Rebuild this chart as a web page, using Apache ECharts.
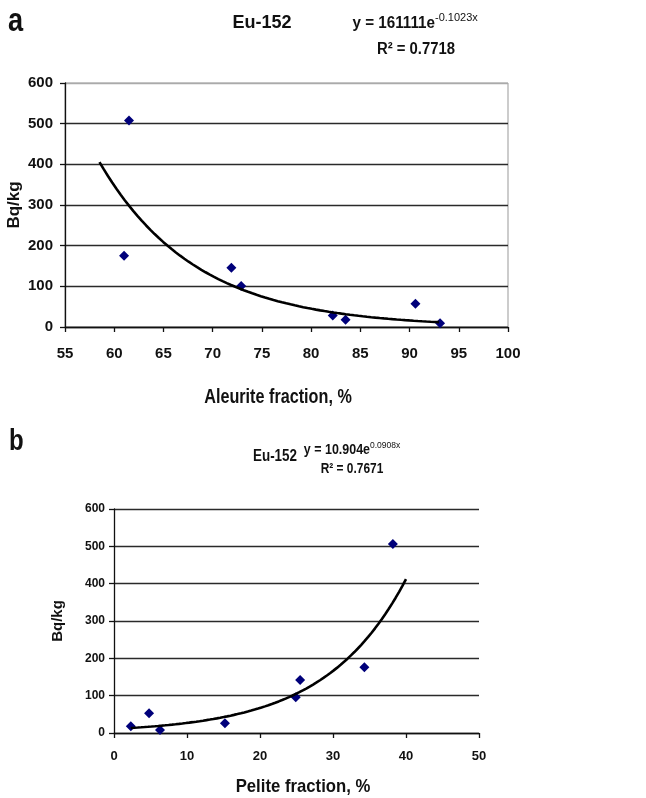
<!DOCTYPE html>
<html>
<head>
<meta charset="utf-8">
<script src="https://cdn.jsdelivr.net/npm/echarts@6/dist/echarts.min.js"></script>
<style>
  html, body { margin: 0; padding: 0; background: #fff; }
  #chart { width: 646px; height: 798px; }
</style>
</head>
<body>
<div id="chart"></div>
<script>
// Panel a: Eu-152 activity vs aleurite fraction
const aleuriteFraction = [61.5, 61.0, 71.9, 72.9, 82.2, 83.5, 90.6, 93.1];
const aleuriteActivity = [508, 175, 146, 101, 28, 18, 57, 9];
// exponential trend y = A * e^(k x), coefficients as printed on the panel
const aleuriteTrend = [161111, -0.1023];
const aleuriteTrendRange = [58.5, 93.0];

// Panel b: Eu-152 activity vs pelite fraction
const peliteFraction = [2.3, 4.8, 6.3, 15.2, 24.9, 25.5, 34.3, 38.2];
const peliteActivity = [18, 53, 8, 26, 96, 142, 176, 506];
const peliteTrend = [10.904, 0.0908];
const peliteTrendRange = [2.3, 40.0];

// axis tick values
const aleuriteTicks = [55, 60, 65, 70, 75, 80, 85, 90, 95, 100];
const peliteTicks = [0, 10, 20, 30, 40, 50];
const activityTicks = [0, 100, 200, 300, 400, 500, 600];

const SANS = "'Liberation Sans', Arial, sans-serif";
const INK = '#111';

function zip(xs, ys) { return xs.map((x, i) => [x, ys[i]]); }

// sample the printed exponential trend equation across its x range
function trendCurve(coef, range, steps) {
  const pts = [];
  for (let i = 0; i <= steps; i++) {
    const x = range[0] + (range[1] - range[0]) * i / steps;
    pts.push([x, coef[0] * Math.exp(coef[1] * x)]);
  }
  return pts;
}

function xAxisCfg(ticks, gridIndex, labelSize, labelMargin) {
  return {
    type: 'value', gridIndex: gridIndex,
    min: ticks[0], max: ticks[ticks.length - 1], interval: ticks[1] - ticks[0],
    axisLine: { show: true, onZero: false, lineStyle: { color: INK, width: 1.3 } },
    axisTick: { show: true, inside: false, length: 5, lineStyle: { color: INK, width: 1.3 } },
    axisLabel: { color: INK, fontFamily: SANS, fontWeight: 'bold', fontSize: labelSize, margin: labelMargin },
    splitLine: { show: false }
  };
}

function yAxisCfg(ticks, gridIndex, nameGap, nameSize, labelSize, labelMargin, splitColors) {
  return {
    type: 'value', gridIndex: gridIndex,
    min: ticks[0], max: ticks[ticks.length - 1], interval: ticks[1] - ticks[0],
    name: 'Bq/kg', nameLocation: 'middle', nameGap: nameGap, nameMoveOverlap: false,
    nameTextStyle: { color: INK, fontFamily: SANS, fontWeight: 'bold', fontSize: nameSize },
    axisLine: { show: true, lineStyle: { color: INK, width: 1.3 } },
    axisTick: { show: true, inside: false, length: 5, lineStyle: { color: INK, width: 1.3 } },
    axisLabel: { color: INK, fontFamily: SANS, fontWeight: 'bold', fontSize: labelSize, margin: labelMargin },
    splitLine: { show: true, lineStyle: { color: splitColors, width: 1.4 } }
  };
}

// condensed text: horizontally squeezed around its anchor point
function label(text, x, y, font, squeeze, align) {
  return {
    type: 'text', x: x, y: y, scaleX: squeeze, scaleY: 1,
    style: { text: text, font: font + ' ' + SANS, fill: INK, align: align || 'center', verticalAlign: 'middle' }
  };
}

const chart = echarts.init(document.getElementById('chart'), null, { renderer: 'canvas' });

const markerStyle = { color: '#00007a', opacity: 1 };
const trendStyle = { color: '#000', width: 2.6 };

chart.setOption({
  backgroundColor: '#fff',
  animation: false,
  grid: [
    { left: 65, top: 83, width: 443, height: 244, outerBoundsMode: 'none', containLabel: false,
      show: true, borderColor: '#999', borderWidth: 1, backgroundColor: 'transparent' },
    { left: 114, top: 509, width: 365, height: 224, outerBoundsMode: 'none', containLabel: false }
  ],
  xAxis: [
    xAxisCfg(aleuriteTicks, 0, 15, 19),
    xAxisCfg(peliteTicks, 1, 13, 17)
  ],
  yAxis: [
    yAxisCfg(activityTicks, 0, 42, 17, 15, 12, ['#2a2a2a', '#2a2a2a', '#2a2a2a', '#2a2a2a', '#2a2a2a', '#2a2a2a', '#aaa']),
    yAxisCfg(activityTicks, 1, 49, 15, 12, 9, ['#2a2a2a'])
  ],
  series: [
    { type: 'scatter', xAxisIndex: 0, yAxisIndex: 0, symbol: 'diamond', symbolSize: 10,
      itemStyle: markerStyle, data: zip(aleuriteFraction, aleuriteActivity), z: 3 },
    { type: 'line', xAxisIndex: 0, yAxisIndex: 0, showSymbol: false, symbol: 'none',
      lineStyle: trendStyle, data: trendCurve(aleuriteTrend, aleuriteTrendRange, 80), z: 4 },
    { type: 'scatter', xAxisIndex: 1, yAxisIndex: 1, symbol: 'diamond', symbolSize: 10,
      itemStyle: markerStyle, data: zip(peliteFraction, peliteActivity), z: 3 },
    { type: 'line', xAxisIndex: 1, yAxisIndex: 1, showSymbol: false, symbol: 'none',
      lineStyle: trendStyle, data: trendCurve(peliteTrend, peliteTrendRange, 80), z: 4 }
  ],
  graphic: [
    // panel letters
    label('a', 8, 22, 'bold 34px', 0.8, 'left'),
    label('b', 9, 442, 'bold 30px', 0.8, 'left'),
    // panel a heading and fit equation
    label('Eu-152', 262, 23, 'bold 19px', 0.95),
    label('y = 161111e', 435, 24, 'bold 16px', 0.95, 'right'),
    label('-0.1023x', 435, 18, '11px', 1, 'left'),
    label('R\u00b2 = 0.7718', 416, 50, 'bold 16px', 0.93),
    // panel a axis title
    label('Aleurite fraction, %', 278, 397, 'bold 20px', 0.81),
    // panel b heading and fit equation
    label('Eu-152', 275, 457, 'bold 16px', 0.84),
    label('y = 10.904e', 370, 450, 'bold 14px', 0.89, 'right'),
    label('0.0908x', 370, 446, '8.5px', 1, 'left'),
    label('R\u00b2 = 0.7671', 352, 469, 'bold 14px', 0.85),
    // panel b axis title
    label('Pelite fraction, %', 303, 787, 'bold 19px', 0.88)
  ]
});
</script>
</body>
</html>
